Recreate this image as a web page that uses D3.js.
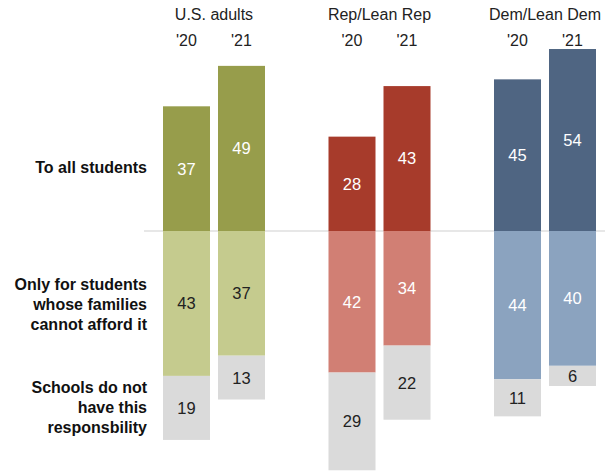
<!DOCTYPE html>
<html>
<head>
<meta charset="utf-8">
<script src="https://cdn.jsdelivr.net/npm/d3@7"></script>
<style>
  html, body { margin: 0; padding: 0; background: #fff; }
  svg { display: block; font-family: "Liberation Sans", Arial, sans-serif; }
</style>
</head>
<body>
<svg id="chart" width="605" height="472"></svg>
<script>
// Survey groups and years
const groups = ["U.S. adults", "Rep/Lean Rep", "Dem/Lean Dem"];
const years = ["'20", "'21"];

// Share (%) by response, per group and year
const allStudents = [[37, 49], [28, 43], [45, 54]];
const onlyNeedy   = [[43, 37], [42, 34], [44, 40]];
const noResp      = [[19, 13], [29, 22], [11, 6]];

const rowLabels = [
  ["To all students"],
  ["Only for students", "whose families", "cannot afford it"],
  ["Schools do not", "have this", "responsbility"]
];

const palette = {
  "U.S. adults":  { dark: "#979d4b", light: "#c5cb8e", lightText: "#222" },
  "Rep/Lean Rep": { dark: "#a73b2b", light: "#d17f74", lightText: "#fff" },
  "Dem/Lean Dem": { dark: "#4f6582", light: "#8ba3bf", lightText: "#fff" }
};
const grayFill = "#dadada";

const svg = d3.select("#chart");
const baseY = 231;

const xGroup = d3.scalePoint().domain(groups).range([214, 545]);
const xYear = d3.scaleBand().domain(years).range([-51, 51]).paddingInner(8 / 55);
const h = d3.scaleLinear().domain([0, 100]).range([0, 337]);

// Baseline
svg.append("line")
  .attr("x1", 144).attr("x2", 605)
  .attr("y1", baseY).attr("y2", baseY)
  .attr("stroke", "#d0d0d0").attr("stroke-width", 1.2);

// Flatten into segment records
const segs = [];
groups.forEach((g, gi) => {
  years.forEach((yr, yi) => {
    const x = xGroup(g) + xYear(yr);
    const a = allStudents[gi][yi], o = onlyNeedy[gi][yi], n = noResp[gi][yi];
    segs.push({ x, y0: baseY - h(a), y1: baseY, v: a, fill: palette[g].dark, text: "#fff" });
    segs.push({ x, y0: baseY, y1: baseY + h(o), v: o, fill: palette[g].light, text: palette[g].lightText });
    segs.push({ x, y0: baseY + h(o), y1: baseY + h(o + n), v: n, fill: grayFill, text: "#222" });
  });
});

svg.append("g").selectAll("rect").data(segs).join("rect")
  .attr("x", d => d.x)
  .attr("y", d => d.y0)
  .attr("width", xYear.bandwidth())
  .attr("height", d => d.y1 - d.y0)
  .attr("fill", d => d.fill);

svg.append("g").selectAll("text").data(segs).join("text")
  .attr("x", d => d.x + xYear.bandwidth() / 2)
  .attr("y", d => (d.y0 + d.y1) / 2)
  .attr("dy", "0.36em")
  .attr("text-anchor", "middle")
  .attr("font-size", 16.5)
  .attr("fill", d => d.text)
  .text(d => d.v);

// Group headers and year labels
svg.append("g").selectAll("text").data(groups).join("text")
  .attr("x", d => xGroup(d))
  .attr("y", 20)
  .attr("text-anchor", "middle")
  .attr("font-size", 16)
  .attr("fill", "#222")
  .text(d => d);

groups.forEach(g => {
  svg.append("g").selectAll("text").data(years).join("text")
    .attr("x", d => xGroup(g) + xYear(d) + xYear.bandwidth() / 2)
    .attr("y", 46)
    .attr("text-anchor", "middle")
    .attr("font-size", 16)
    .attr("fill", "#222")
    .text(d => d);
});

// Row labels on the left
const rowY = [173, 290, 393];
rowLabels.forEach((lines, i) => {
  const t = svg.append("text")
    .attr("x", 147)
    .attr("y", rowY[i])
    .attr("text-anchor", "end")
    .attr("font-size", 16)
    .attr("font-weight", "bold")
    .attr("fill", "#111");
  lines.forEach((ln, j) => {
    t.append("tspan").attr("x", 147).attr("dy", j === 0 ? 0 : 20).text(ln);
  });
});
</script>
</body>
</html>
